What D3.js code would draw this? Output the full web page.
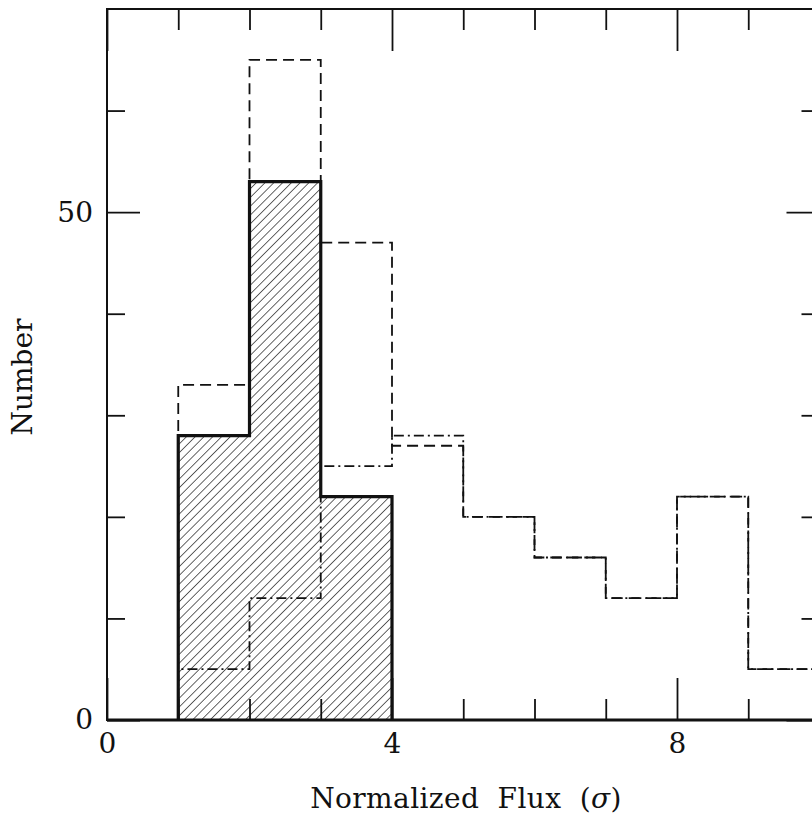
<!DOCTYPE html>
<html>
<head>
<meta charset="utf-8">
<script src="https://cdn.jsdelivr.net/npm/d3@7"></script>
<style>
  html, body { margin: 0; padding: 0; background: #fff; }
  svg { display: block; }
  text { font-family: "DejaVu Serif", "Liberation Serif", serif; fill: #111; }
</style>
</head>
<body>
<svg id="chart" width="812" height="819"></svg>
<script>
// Bin edges of the flux histograms (units of sigma)
const binEdges = [1, 2, 3, 4, 5, 6, 7, 8, 9, 10];
// Hatched histogram (solid outline), bins 1-2, 2-3, 3-4
const hatchedCounts = [28, 53, 22];
// Dashed histogram, bins 1-2 ... 9-10
const dashedCounts = [33, 65, 47, 27, 20, 16, 12, 22, 5];
// Dot-dashed histogram, bins 1-2 ... 9-10
const dotDashCounts = [5, 12, 25, 28, 20, 16, 12, 22, 5];

const xMajorTicks = [0, 4, 8];
const xMinorTicks = [1, 2, 3, 5, 6, 7, 9];
const yMajorTicks = [0, 50];
const yMinorTicks = [10, 20, 30, 40, 60];

const xDomain = [0, 10];
const yDomain = [0, 70];

const svg = d3.select("#chart");
const pLeft = 107, pRight = 819.5, pTop = 9, pBottom = 720;

const x = d3.scaleLinear().domain(xDomain).range([pLeft, pRight]);
const y = d3.scaleLinear().domain(yDomain).range([pBottom, pTop]);

// hatch pattern for the filled histogram
const defs = svg.append("defs");
defs.append("pattern")
  .attr("id", "hatch")
  .attr("patternUnits", "userSpaceOnUse")
  .attr("width", 6.2).attr("height", 10)
  .attr("patternTransform", "rotate(45)")
  .append("line")
  .attr("x1", 0).attr("y1", 0).attr("x2", 0).attr("y2", 10)
  .attr("stroke", "#111").attr("stroke-width", 1.3);

// step outline of a histogram, closed to the baseline at both ends
function stepPoints(edges, counts) {
  const pts = [[edges[0], 0]];
  counts.forEach((c, i) => {
    pts.push([edges[i], c]);
    pts.push([edges[i + 1], c]);
  });
  pts.push([edges[counts.length], 0]);
  return pts;
}
const line = d3.line().x(d => x(d[0])).y(d => y(d[1]));

// hatched bars
svg.append("g").selectAll("rect")
  .data(hatchedCounts)
  .join("rect")
  .attr("x", (d, i) => x(binEdges[i]))
  .attr("width", (d, i) => x(binEdges[i + 1]) - x(binEdges[i]))
  .attr("y", d => y(d))
  .attr("height", d => y(0) - y(d))
  .attr("fill", "url(#hatch)");

// dot-dashed histogram
svg.append("path")
  .attr("d", line(stepPoints(binEdges, dotDashCounts)))
  .attr("fill", "none").attr("stroke", "#111").attr("stroke-width", 1.8)
  .attr("stroke-dasharray", "10,4,2,4");

// dashed histogram
svg.append("path")
  .attr("d", line(stepPoints(binEdges, dashedCounts)))
  .attr("fill", "none").attr("stroke", "#111").attr("stroke-width", 1.8)
  .attr("stroke-dasharray", "11,6");

// solid outline of hatched histogram
svg.append("path")
  .attr("d", line(stepPoints(binEdges, hatchedCounts)))
  .attr("fill", "none").attr("stroke", "#111").attr("stroke-width", 3.2)
  .attr("stroke-linejoin", "miter");

// frame
svg.append("rect")
  .attr("x", pLeft).attr("y", pTop)
  .attr("width", pRight - pLeft).attr("height", pBottom - pTop)
  .attr("fill", "none").attr("stroke", "#111").attr("stroke-width", 2);
svg.append("line")
  .attr("x1", pLeft).attr("x2", pRight).attr("y1", pBottom).attr("y2", pBottom)
  .attr("stroke", "#111").attr("stroke-width", 3);

function styleAxis(g) {
  g.select(".domain").remove();
  g.selectAll(".tick line").attr("stroke", "#111").attr("stroke-width", 1.8);
  g.selectAll("text").attr("font-size", 28).attr("fill", "#111")
    .style("font-family", '"DejaVu Serif", serif');
}

// bottom axis (ticks point inward)
svg.append("g").attr("transform", `translate(0,${pBottom})`)
  .call(d3.axisBottom(x).tickValues(xMinorTicks).tickSize(-21).tickFormat(""))
  .call(styleAxis);
svg.append("g").attr("transform", `translate(0,${pBottom})`)
  .call(d3.axisBottom(x).tickValues(xMajorTicks).tickSize(-42).tickPadding(13).tickFormat(d3.format("d")))
  .call(styleAxis);
// top axis
svg.append("g").attr("transform", `translate(0,${pTop})`)
  .call(d3.axisTop(x).tickValues(xMinorTicks).tickSize(-21).tickFormat(""))
  .call(styleAxis);
svg.append("g").attr("transform", `translate(0,${pTop})`)
  .call(d3.axisTop(x).tickValues(xMajorTicks).tickSize(-42).tickFormat(""))
  .call(styleAxis);
// left axis
svg.append("g").attr("transform", `translate(${pLeft},0)`)
  .call(d3.axisLeft(y).tickValues(yMinorTicks).tickSize(-18).tickFormat(""))
  .call(styleAxis);
svg.append("g").attr("transform", `translate(${pLeft},0)`)
  .call(d3.axisLeft(y).tickValues(yMajorTicks).tickSize(-33).tickPadding(14).tickFormat(d3.format("d")))
  .call(styleAxis);
// right axis
svg.append("g").attr("transform", `translate(${pRight},0)`)
  .call(d3.axisRight(y).tickValues(yMinorTicks).tickSize(-18).tickFormat(""))
  .call(styleAxis);
svg.append("g").attr("transform", `translate(${pRight},0)`)
  .call(d3.axisRight(y).tickValues(yMajorTicks).tickSize(-33).tickFormat(""))
  .call(styleAxis);

// axis titles
const xt = svg.append("text")
  .attr("x", 466).attr("y", 808)
  .attr("text-anchor", "middle").attr("font-size", 28)
  .attr("word-spacing", 9).attr("letter-spacing", 0.4);
xt.append("tspan").text("Normalized Flux (");
xt.append("tspan").attr("font-style", "italic").text("σ");
xt.append("tspan").text(")");

svg.append("text")
  .attr("transform", `translate(32,377) rotate(-90)`)
  .attr("text-anchor", "middle").attr("font-size", 28)
  .text("Number");
</script>
</body>
</html>
